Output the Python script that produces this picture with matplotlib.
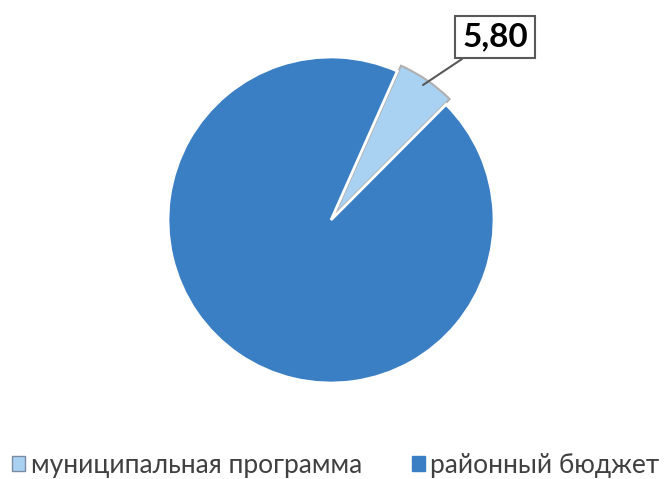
import matplotlib
matplotlib.use("Agg")
import matplotlib.pyplot as plt
from matplotlib.patches import Patch

# data
labels = ["муниципальная программа", "районный бюджет"]
values = [5.80, 94.20]
colors = ["#a9d1f2", "#3a7ec4"]
shown_label = "5,80"

plt.rcParams['font.family'] = ['Lato', 'DejaVu Sans']

W, H = 665, 479
fig = plt.figure(figsize=(W / 100, H / 100), dpi=100)
cx, cy, r = 331, 479 - 220, 163
ax = fig.add_axes([(cx - r) / W, (cy - r) / H, 2 * r / W, 2 * r / H])

wedges, _ = ax.pie(values, colors=colors, startangle=66, counterclock=False,
                   explode=[0.04, 0], radius=1.0,
                   wedgeprops=dict(edgecolor="white", linewidth=2))
wedges[0].set_edgecolor("#b0b0b0")
wedges[0].set_linewidth(1.5)
ax.set_xlim(-1, 1)
ax.set_ylim(-1, 1)
ax.set_aspect("equal")

# callout label
ax.annotate(shown_label, xy=((423 - cx) / r, (cy - (479 - 85)) / -r),
            xycoords="data",
            xytext=(495 / W, 1 - 37 / H), textcoords="figure fraction",
            ha="center", va="center", fontsize=24, fontweight="bold",
            bbox=dict(boxstyle="square,pad=0.2", fc="white", ec="#595959", lw=1.5),
            arrowprops=dict(arrowstyle="-", color="#595959", lw=1.5,
                            shrinkA=0, shrinkB=0))

handles = [Patch(facecolor=colors[0], edgecolor="#7a8aa0"),
           Patch(facecolor=colors[1], edgecolor=colors[1])]
fig.legend(handles, labels, loc="center", bbox_to_anchor=(0.505, 1 - 465 / H),
           ncol=2, frameon=False, fontsize=19, handlelength=0.5,
           handleheight=0.5, handletextpad=0.2, columnspacing=1.9,
           labelcolor="#404040", borderaxespad=0, borderpad=0)

fig.savefig("out.png", dpi=100)
